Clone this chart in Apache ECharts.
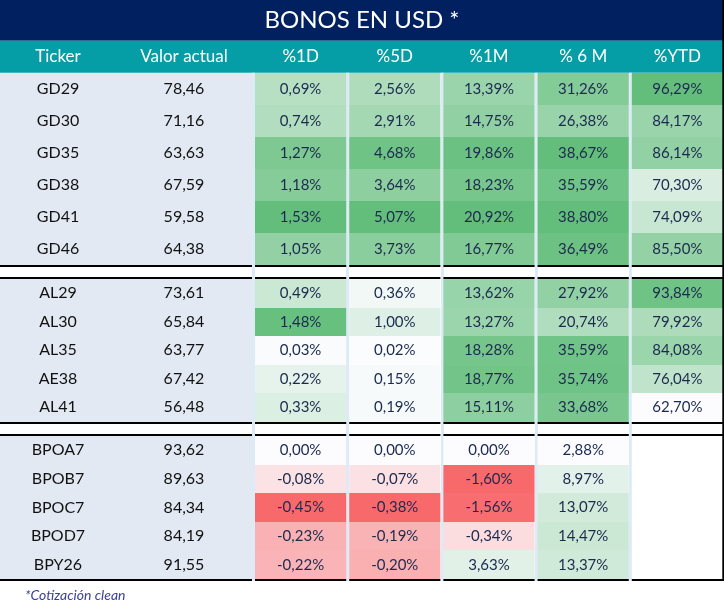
<!DOCTYPE html>
<html><head><meta charset="utf-8">
<script src="https://cdn.jsdelivr.net/npm/echarts@6/dist/echarts.min.js"></script>
<style>html,body{margin:0;padding:0;background:#fff}#c{width:724px;height:610px}</style>
</head><body><div id="c"></div>
<script>
// ---- text ----
const titleText = 'BONOS EN USD *';
const footnote = '*Cotización clean';
const leftHeaders = ['Ticker', 'Valor actual'];
const colHeaders = ['%1D', '%5D', '%1M', '% 6 M', '%YTD'];

// ---- GD group ----
const gdTickers = ['GD29', 'GD30', 'GD35', 'GD38', 'GD41', 'GD46'];
const gdValor = [78.46, 71.16, 63.63, 67.59, 59.58, 64.38];
const gdD1 = [0.69, 0.74, 1.27, 1.18, 1.53, 1.05];
const gdD5 = [2.56, 2.91, 4.68, 3.64, 5.07, 3.73];
const gdM1 = [13.39, 14.75, 19.86, 18.23, 20.92, 16.77];
const gdM6 = [31.26, 26.38, 38.67, 35.59, 38.80, 36.49];
const gdYtd = [96.29, 84.17, 86.14, 70.30, 74.09, 85.50];

// ---- AL group ----
const alTickers = ['AL29', 'AL30', 'AL35', 'AE38', 'AL41'];
const alValor = [73.61, 65.84, 63.77, 67.42, 56.48];
const alD1 = [0.49, 1.48, 0.03, 0.22, 0.33];
const alD5 = [0.36, 1.00, 0.02, 0.15, 0.19];
const alM1 = [13.62, 13.27, 18.28, 18.77, 15.11];
const alM6 = [27.92, 20.74, 35.59, 35.74, 33.68];
const alYtd = [93.84, 79.92, 84.08, 76.04, 62.70];

// ---- BPO group ----
const bpTickers = ['BPOA7', 'BPOB7', 'BPOC7', 'BPOD7', 'BPY26'];
const bpValor = [93.62, 89.63, 84.34, 84.19, 91.55];
const bpD1 = [0.00, -0.08, -0.45, -0.23, -0.22];
const bpD5 = [0.00, -0.07, -0.38, -0.19, -0.20];
const bpM1 = [0.00, -1.60, -1.56, -0.34, 3.63];
const bpM6 = [2.88, 8.97, 13.07, 14.47, 13.37];
const bpYtd = [null, null, null, null, null];

const groups = [
  { tickers: gdTickers, valor: gdValor, cols: [gdD1, gdD5, gdM1, gdM6, gdYtd] },
  { tickers: alTickers, valor: alValor, cols: [alD1, alD5, alM1, alM6, alYtd] },
  { tickers: bpTickers, valor: bpValor, cols: [bpD1, bpD5, bpM1, bpM6, bpYtd] }
];

// ---- layout (px) ----
const groupTops = [72.7, 279, 436];
const groupHeights = [192.5, 142.5, 143];
const LEFT_X = 0, LEFT_W = 252, RIGHT_X = 253.5, RIGHT_W = 471;
const FONT = 'Lato';

// ---- colour scale (per column, like a spreadsheet colour scale) ----
const WHITE = [252, 252, 255], RED = [248, 105, 107], GREEN = [99, 190, 123];
const colStats = colHeaders.map((_, c) => {
  const all = [];
  groups.forEach(g => g.cols[c].forEach(v => { if (v != null) all.push(v); }));
  return { min: Math.min(...all), max: Math.max(...all) };
});
function mix(a, b, t) {
  t = Math.max(0, Math.min(1, t));
  return 'rgb(' + a.map((x, i) => Math.round(x + (b[i] - x) * t)).join(',') + ')';
}
function cellColor(v, c) {
  if (v == null) return '#ffffff';
  const s = colStats[c];
  if (v < 0) return mix(WHITE, RED, v / s.min);
  const low = s.min < 0 ? 0 : s.min;
  return mix(WHITE, GREEN, (v - low) / (s.max - low));
}
const fmt = v => v.toFixed(2).replace('.', ',');

function rightRender(g, gi) {
  return function (params, api) {
    const c = api.value(0), r = api.value(1);
    const v = g.cols[c][r];
    const ctr = api.coord([c, r]);
    const sz = api.size([1, 1]);
    const x0 = ctr[0] - sz[0] / 2 + 1.5, x1 = ctr[0] + sz[0] / 2 - 1.5;
    const y0 = Math.round(ctr[1] - sz[1] / 2), y1 = Math.round(ctr[1] + sz[1] / 2);
    const ch = [{ type: 'rect', shape: { x: x0, y: y0, width: x1 - x0, height: y1 - y0 }, style: { fill: cellColor(v, c) } }];
    if (v != null) ch.push({ type: 'text', style: { text: fmt(v) + '%', x: ctr[0], y: ctr[1], align: 'center', verticalAlign: 'middle', fill: '#1c2a4e', font: '15px ' + FONT } });
    if (r === 0 && gi > 0) ch.push({ type: 'rect', shape: { x: x0, y: y0 - 2, width: x1 - x0, height: 2 }, style: { fill: '#000' } });
    if (r === g.tickers.length - 1) ch.push({ type: 'rect', shape: { x: x0, y: y1, width: x1 - x0, height: 2 }, style: { fill: '#000' } });
    return { type: 'group', children: ch };
  };
}
function leftRender(g, gi) {
  return function (params, api) {
    const c = api.value(0), r = api.value(1);
    const ctr = api.coord([c, r]);
    const sz = api.size([1, 1]);
    const x0 = ctr[0] - sz[0] / 2, x1 = ctr[0] + sz[0] / 2;
    const y0 = Math.round(ctr[1] - sz[1] / 2), y1 = Math.round(ctr[1] + sz[1] / 2);
    const txt = c === 0 ? g.tickers[r] : fmt(g.valor[r]);
    const ch = [
      { type: 'rect', shape: { x: x0, y: y0, width: x1 - x0 + 0.5, height: y1 - y0 }, style: { fill: '#e2e9f3' } },
      { type: 'text', style: { text: txt, x: ctr[0] - 5, y: ctr[1], align: 'center', verticalAlign: 'middle', fill: '#111', font: '16px ' + FONT } }
    ];
    if (r === 0 && gi > 0) ch.push({ type: 'rect', shape: { x: x0, y: y0 - 2, width: x1 - x0, height: 2 }, style: { fill: '#000' } });
    if (r === g.tickers.length - 1) ch.push({ type: 'rect', shape: { x: x0, y: y1, width: x1 - x0, height: 2 }, style: { fill: '#000' } });
    return { type: 'group', children: ch };
  };
}

const grid = [], xAxis = [], yAxis = [], series = [];
groups.forEach((g, gi) => {
  // left grid
  grid.push({ left: LEFT_X, width: LEFT_W, top: groupTops[gi], height: groupHeights[gi], outerBoundsMode: 'none', containLabel: false });
  grid.push({ left: RIGHT_X, width: RIGHT_W, top: groupTops[gi], height: groupHeights[gi], outerBoundsMode: 'none', containLabel: false });
  const li = grid.length - 2, ri = grid.length - 1;
  const hdr = gi === 0;
  const xa = (data, pad) => ({
    type: 'category', data, gridIndex: 0, position: 'top',
    show: hdr, axisLine: { show: false }, axisTick: { show: false }, splitLine: { show: false },
    axisLabel: { show: hdr, color: '#ffffff', fontSize: 17, fontFamily: FONT, margin: 16, verticalAlign: 'middle', padding: pad, interval: 0 }
  });
  const lx = xa(leftHeaders, [0, 10, 0, 0]); lx.gridIndex = li; xAxis.push(lx);
  const rx = xa(colHeaders, 0); rx.gridIndex = ri; xAxis.push(rx);
  yAxis.push({ type: 'category', data: g.tickers, inverse: true, gridIndex: li, show: false });
  yAxis.push({ type: 'category', data: g.tickers, inverse: true, gridIndex: ri, show: false });
  const ld = [], rd = [];
  g.tickers.forEach((t, r) => {
    ld.push([0, r]); ld.push([1, r]);
    colHeaders.forEach((h, c) => rd.push([c, r]));
  });
  series.push({ type: 'custom', xAxisIndex: li, yAxisIndex: li, data: ld, encode: { x: 0, y: 1 }, renderItem: leftRender(g, gi), silent: true });
  series.push({ type: 'custom', xAxisIndex: ri, yAxisIndex: ri, data: rd, encode: { x: 0, y: 1 }, renderItem: rightRender(g, gi), silent: true });
});
// backdrop grid: light-blue column gaps running through the whole table body
grid.push({ left: RIGHT_X, width: RIGHT_W, top: 72.7, height: 508, outerBoundsMode: 'none', containLabel: false });
const bi = grid.length - 1;
xAxis.push({ type: 'category', data: colHeaders, gridIndex: bi, axisLine: { show: false }, axisTick: { show: false }, axisLabel: { show: false },
  splitLine: { show: true, interval: 0, lineStyle: { color: '#dcebf7', width: 3 } } });
yAxis.push({ type: 'value', gridIndex: bi, show: false, min: 0, max: 1 });

const chart = echarts.init(document.getElementById('c'), null, { renderer: 'canvas' });
chart.setOption({
  animation: false,
  backgroundColor: '#ffffff',
  title: [
    { text: titleText, left: 'center', top: 8, padding: 0, textStyle: { color: '#ffffff', fontSize: 24, fontWeight: 'normal', fontFamily: FONT } },
    { text: footnote, left: 25, top: 588, padding: 0, textStyle: { color: '#3b3f9c', fontSize: 14, fontStyle: 'italic', fontWeight: 'normal', fontFamily: FONT } }
  ],
  graphic: [
    { type: 'rect', z: -10, shape: { x: 0, y: 0, width: 724, height: 40.7 }, style: { fill: '#00205f' } },
    { type: 'rect', z: -10, shape: { x: 0, y: 40.7, width: 724, height: 32 }, style: { fill: '#069ea6' } },
    { type: 'rect', z: 100, shape: { x: 722.3, y: 0, width: 1.7, height: 581 }, style: { fill: '#000' } }
  ],
  grid, xAxis, yAxis, series
});
</script></body></html>
